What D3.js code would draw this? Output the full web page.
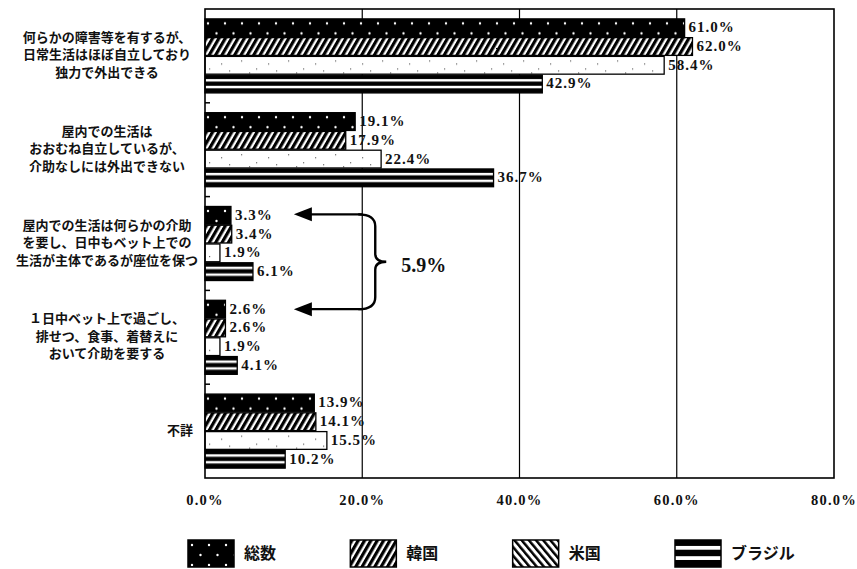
<!DOCTYPE html>
<html lang="ja">
<head>
<meta charset="UTF-8">
<title>障害の程度 国別</title>
<script src="https://d3js.org/d3.v7.min.js"></script>
<style>
    body { margin: 0; background: #fff; }
    .cat { font-family: "Noto Sans CJK JP", sans-serif; font-weight: bold; font-size: 13px; fill: #111; }
    .val { font-family: "Liberation Serif", serif; font-weight: bold; font-size: 15px; letter-spacing: 1px; fill: #111; }
    .tick { font-family: "Liberation Serif", serif; font-weight: bold; font-size: 14.5px; letter-spacing: 1.2px; fill: #111; }
    .leg { font-family: "Noto Sans CJK JP", sans-serif; font-weight: bold; font-size: 16px; fill: #111; }
    .note { font-family: "Liberation Serif", serif; font-weight: bold; font-size: 20px; fill: #111; }
</style>
</head>
<body>
<div id="chart"></div>
<script>
// categories (line breaks as in the original)
const categories = [
    "何らかの障害等を有するが、\n日常生活はほぼ自立しており\n独力で外出できる",
    "屋内での生活は\nおおむね自立しているが、\n介助なしには外出できない",
    "屋内での生活は何らかの介助\nを要し、日中もベット上での\n生活が主体であるが座位を保つ",
    "１日中ベット上で過ごし、\n排せつ、食事、着替えに\nおいて介助を要する",
    "不詳"
];
const seriesNames = ["総数", "韓国", "米国", "ブラジル"];
const total  = [61.0, 19.1, 3.3, 2.6, 13.9];
const korea  = [62.0, 17.9, 3.4, 2.6, 14.1];
const usa    = [58.4, 22.4, 1.9, 1.9, 15.5];
const brazil = [42.9, 36.7, 6.1, 4.1, 10.2];
const xTicks = [0, 20, 40, 60, 80];

const seriesValues = [total, korea, usa, brazil];

const W = 857, H = 569;
const margin = { top: 9, right: 23, bottom: 91, left: 205 };

const svg = d3.select("#chart").append("svg")
    .attr("width", W).attr("height", H)
    .style("background", "#fff");

// patterns
const defs = svg.append("defs");

const pDots = defs.append("pattern").attr("id", "pTotal")
    .attr("patternUnits", "userSpaceOnUse").attr("width", 17).attr("height", 20);
pDots.append("rect").attr("width", 17).attr("height", 20).attr("fill", "#000");
pDots.append("circle").attr("cx", 4).attr("cy", 5).attr("r", 1.2).attr("fill", "#fff");
pDots.append("circle").attr("cx", 12.5).attr("cy", 15).attr("r", 1.2).attr("fill", "#fff");

const pHatch = defs.append("pattern").attr("id", "pKorea")
    .attr("patternUnits", "userSpaceOnUse").attr("width", 5.5).attr("height", 10)
    .attr("patternTransform", "rotate(30)");
pHatch.append("rect").attr("width", 5.5).attr("height", 10).attr("fill", "#fff");
pHatch.append("rect").attr("width", 3.2).attr("height", 10).attr("fill", "#000");

const pSpeck = defs.append("pattern").attr("id", "pUsa")
    .attr("patternUnits", "userSpaceOnUse").attr("width", 47).attr("height", 19);
pSpeck.append("rect").attr("width", 47).attr("height", 19).attr("fill", "#fff");
[[6, 4], [21, 12], [33, 7], [41, 14], [14, 16]].forEach(([x, y]) =>
    pSpeck.append("rect").attr("x", x).attr("y", y).attr("width", 1.2).attr("height", 1.2).attr("fill", "#666"));

const pBack = defs.append("pattern").attr("id", "pUsaLeg")
    .attr("patternUnits", "userSpaceOnUse").attr("width", 5.5).attr("height", 10)
    .attr("patternTransform", "rotate(-40)");
pBack.append("rect").attr("width", 5.5).attr("height", 10).attr("fill", "#fff");
pBack.append("rect").attr("width", 2.5).attr("height", 10).attr("fill", "#000");

const pStripe = defs.append("pattern").attr("id", "pBrazil")
    .attr("patternUnits", "objectBoundingBox").attr("patternContentUnits", "objectBoundingBox")
    .attr("width", 1).attr("height", 1);
pStripe.append("rect").attr("width", 1).attr("height", 1).attr("fill", "#000");
pStripe.append("rect").attr("y", 0.22).attr("width", 1).attr("height", 0.14).attr("fill", "#fff");
pStripe.append("rect").attr("y", 0.6).attr("width", 1).attr("height", 0.14).attr("fill", "#fff");

const barFills = ["url(#pTotal)", "url(#pKorea)", "url(#pUsa)", "url(#pBrazil)"];
const legFills = ["url(#pTotal)", "url(#pKorea)", "url(#pUsaLeg)", "url(#pBrazil)"];

// scales
const x = d3.scaleLinear().domain([0, 80]).range([margin.left, W - margin.right]);
const y = d3.scaleBand().domain(d3.range(categories.length))
    .range([margin.top, H - margin.bottom]).paddingInner(0.2).paddingOuter(0.1);
const ySub = d3.scaleBand().domain(d3.range(seriesNames.length)).range([0, y.bandwidth()]);

const plotTop = margin.top, plotBottom = H - margin.bottom;
const step = y.step();

// gridlines
svg.append("g").selectAll("line").data(xTicks.slice(1, -1)).join("line")
    .attr("x1", d => x(d)).attr("x2", d => x(d))
    .attr("y1", plotTop).attr("y2", plotBottom)
    .attr("stroke", "#000").attr("stroke-width", 1.2);

// left axis small ticks at group boundaries
svg.append("g").selectAll("line").data(d3.range(1, categories.length)).join("line")
    .attr("x1", x(0)).attr("x2", x(0) + 5)
    .attr("y1", d => plotTop + d * step).attr("y2", d => plotTop + d * step)
    .attr("stroke", "#000").attr("stroke-width", 1.5);

// bars
const groups = svg.append("g").selectAll("g").data(categories).join("g")
    .attr("transform", (d, i) => `translate(0,${y(i)})`);

groups.each(function(c, ci) {
    const g = d3.select(this);
    seriesValues.forEach((vals, si) => {
        const v = vals[ci];
        g.append("rect")
            .attr("x", x(0))
            .attr("y", ySub(si) + 0.5)
            .attr("width", x(v) - x(0))
            .attr("height", ySub.bandwidth() - 1)
            .attr("fill", barFills[si])
            .attr("stroke", "#000").attr("stroke-width", 1.3);
        g.append("text").attr("class", "val")
            .attr("x", x(v) + 4)
            .attr("y", ySub(si) + ySub.bandwidth() / 2 + 1)
            .attr("dominant-baseline", "middle")
            .text(v.toFixed(1) + "%");
    });
});

// frame
svg.append("rect")
    .attr("x", x(0)).attr("y", plotTop)
    .attr("width", x(80) - x(0)).attr("height", plotBottom - plotTop)
    .attr("fill", "none").attr("stroke", "#000").attr("stroke-width", 1.6);

// category labels
categories.forEach((c, i) => {
    const lines = c.split("\n");
    const cy = y(i) + y.bandwidth() / 2;
    const lh = 17.5;
    const t = svg.append("text").attr("class", "cat")
        .attr("text-anchor", lines.length > 1 ? "middle" : "end");
    lines.forEach((ln, k) => {
        t.append("tspan")
            .attr("x", lines.length > 1 ? 107 : 193)
            .attr("y", cy + (k - (lines.length - 1) / 2) * lh)
            .attr("dominant-baseline", "middle")
            .text(ln);
    });
});

// x tick labels
svg.append("g").selectAll("text").data(xTicks).join("text")
    .attr("class", "tick")
    .attr("x", d => x(d)).attr("y", plotBottom + 24)
    .attr("text-anchor", "middle").attr("dominant-baseline", "middle")
    .text(d => d.toFixed(1) + "%");

// annotation: arrows + brace + sum
const ay1 = y(2) + ySub(0) + ySub.bandwidth() / 2 - 1;
const ay2 = y(3) + ySub(0) + ySub.bandwidth() / 2;
const ax0 = x(20), axTip = x(11.3);
[ay1, ay2].forEach(ay => {
    svg.append("line").attr("x1", ax0).attr("x2", axTip + 14)
        .attr("y1", ay).attr("y2", ay)
        .attr("stroke", "#000").attr("stroke-width", 2.4);
    svg.append("path")
        .attr("d", `M${axTip},${ay} L${axTip + 18},${ay - 7} L${axTip + 18},${ay + 7} Z`)
        .attr("fill", "#000");
});
const bx = ax0, bw = 13, mid = (ay1 + ay2) / 2;
svg.append("path")
    .attr("d", `M${bx - 4},${ay1} Q${bx + bw},${ay1} ${bx + bw},${ay1 + 12}
                L${bx + bw},${mid - 8} Q${bx + bw},${mid} ${bx + bw + 11},${mid}
                Q${bx + bw},${mid} ${bx + bw},${mid + 8}
                L${bx + bw},${ay2 - 12} Q${bx + bw},${ay2} ${bx - 4},${ay2}`)
    .attr("fill", "none").attr("stroke", "#000").attr("stroke-width", 2.4);
svg.append("text").attr("class", "note")
    .attr("x", bx + bw + 26).attr("y", mid + 6)
    .attr("dominant-baseline", "middle")
    .text((total[2] + total[3]).toFixed(1) + "%");

// legend
const legX = d3.scalePoint().domain(seriesNames).range([188, 675]);
const leg = svg.append("g").selectAll("g").data(seriesNames).join("g")
    .attr("transform", d => `translate(${legX(d)},540)`);
leg.append("rect").attr("width", 46).attr("height", 27)
    .attr("fill", (d, i) => legFills[i])
    .attr("stroke", "#000").attr("stroke-width", 1.5);
leg.append("text").attr("class", "leg")
    .attr("x", 56).attr("y", 14.5)
    .attr("dominant-baseline", "middle")
    .text(d => d);
</script>
</body>
</html>
